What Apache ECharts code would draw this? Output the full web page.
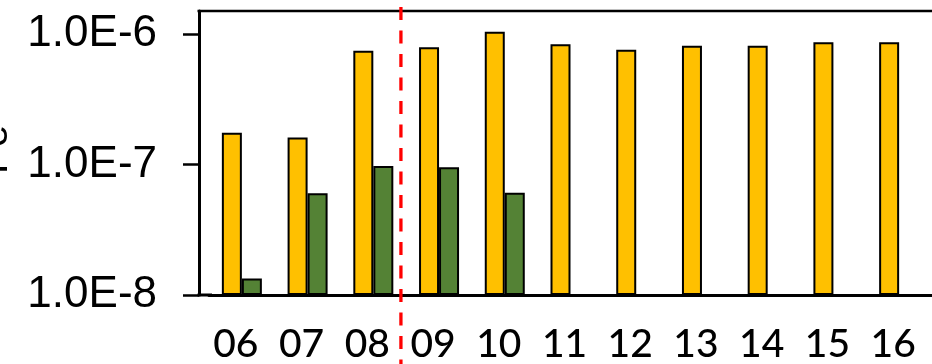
<!DOCTYPE html>
<html>
<head>
<meta charset="utf-8">
<script src="https://cdn.jsdelivr.net/npm/echarts@6/dist/echarts.min.js"></script>
<style>
html,body{margin:0;padding:0;background:#fff;}
#chart{width:932px;height:364px;}
</style>
</head>
<body>
<div id="chart"></div>
<script>
const categories = ['06','07','08','09','10','11','12','13','14','15','16'];
const seriesYellow = [1.75e-7, 1.61e-7, 7.45e-7, 7.93e-7, 1.04e-6, 8.35e-7, 7.58e-7, 8.12e-7, 8.12e-7, 8.65e-7, 8.65e-7];
const seriesGreen = [1.34e-8, 6.03e-8, 9.72e-8, 9.51e-8, 6.07e-8, null, null, null, null, null, null];
const yTicks = [1e-8, 1e-7, 1e-6];
const yTickLabels = ['1.0E-8', '1.0E-7', '1.0E-6'];
const yMin = 1e-8, yMax = 1.5e-6;
const titleText = 'Pe';

const chart = echarts.init(document.getElementById('chart'), null, {renderer: 'canvas'});
const option = {
  animation: false,
  backgroundColor: '#ffffff',
  grid: {left: 209, right: -17.3, top: 11, bottom: 64.5, containLabel: false},
  xAxis: {
    type: 'category',
    data: categories,
    boundaryGap: true,
    axisLine: {show: true, lineStyle: {color: '#000', width: 3}},
    axisTick: {show: false},
    axisLabel: {
      color: '#000', fontFamily: 'Lato', fontSize: 39, fontWeight: 500, margin: 30,
      interval: 0, padding: [0, 12, 0, 0]
    },
    splitLine: {show: false}
  },
  yAxis: {
    type: 'log',
    logBase: 10,
    min: yMin,
    max: yMax,
    startValue: yMin,
    offset: 10,
    axisLine: {show: true, lineStyle: {color: '#000', width: 3}},
    axisTick: {show: true, inside: false, length: 16, lineStyle: {color: '#000', width: 2.5}, customValues: yTicks},
    axisLabel: {
      color: '#000', fontFamily: 'Liberation Sans', fontSize: 44, margin: 42,
      customValues: yTicks,
      formatter: function (v) {
        for (let i = 0; i < yTicks.length; i++) {
          if (Math.abs(Math.log10(v) - Math.log10(yTicks[i])) < 1e-6) return yTickLabels[i];
        }
        return '';
      }
    },
    splitLine: {show: false}
  },
  series: [
    {
      type: 'bar', name: 'A', data: seriesYellow, barWidth: 20, barGap: '0%',
      itemStyle: {color: '#FFC000', borderColor: '#000', borderWidth: 2}
    },
    {
      type: 'bar', name: 'B', data: seriesGreen, barWidth: 20, barGap: '0%',
      itemStyle: {color: '#548235', borderColor: '#000', borderWidth: 2}
    }
  ]
};
chart.setOption(option);

// frame and annotation
const x08 = chart.convertToPixel({xAxisIndex: 0}, '08');
const x09 = chart.convertToPixel({xAxisIndex: 0}, '09');
const xRed = x08 + 0.42 * (x09 - x08);
const gTop = chart.convertToPixel({yAxisIndex: 0}, yMax);
const gBot = chart.convertToPixel({yAxisIndex: 0}, yMin);
const axisX = 199;
chart.setOption({
  graphic: [
    {type: 'line', shape: {x1: axisX - 1.5, y1: gTop, x2: 932, y2: gTop}, style: {stroke: '#000', lineWidth: 2.5}, z: 100},
    {type: 'line', shape: {x1: axisX - 1.5, y1: gBot, x2: 212, y2: gBot}, style: {stroke: '#000', lineWidth: 3}, z: 100},
    {type: 'line', shape: {x1: xRed, y1: 7, x2: xRed, y2: 364}, style: {stroke: '#FF0000', lineWidth: 3.3, lineDash: [13, 10.5]}, z: 120},
    {type: 'text', x: 16, y: 174, rotation: Math.PI / 2,
     style: {text: titleText, fontFamily: 'Liberation Sans', fontSize: 40, fill: '#000', align: 'left', verticalAlign: 'bottom'}, z: 100}
  ]
});
</script>
</body>
</html>
